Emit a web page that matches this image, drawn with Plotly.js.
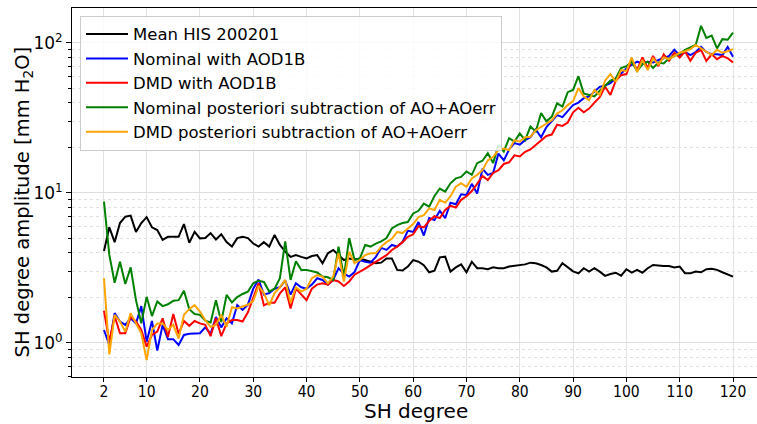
<!DOCTYPE html>
<html>
<head>
<meta charset="utf-8">
<script src="https://cdn.plot.ly/plotly-3.0.1.min.js"></script>
<style>html,body{margin:0;padding:0;background:#fff;}#chart{width:757px;height:424px;}</style>
</head>
<body>
<div id="chart"></div>
<script>
var degrees = [2,3,4,5,6,7,8,9,10,11,12,13,14,15,16,17,18,19,20,21,
22,23,24,25,26,27,28,29,30,31,32,33,34,35,36,37,38,39,40,41,
42,43,44,45,46,47,48,49,50,51,52,53,54,55,56,57,58,59,60,61,
62,63,64,65,66,67,68,69,70,71,72,73,74,75,76,77,78,79,80,81,
82,83,84,85,86,87,88,89,90,91,92,93,94,95,96,97,98,99,100,101,
102,103,104,105,106,107,108,109,110,111,112,113,114,115,116,117,118,119,120];

var meanHIS = [4.1,5.9,4.7,6.3,6.95,7.06,5.5,6.3,6.9,5.9,
5.66,4.86,5.1,5.1,5.1,6.2,4.66,5.5,4.98,5.0,
5.4,4.9,5.3,4.7,4.4,5.0,5.1,5.0,4.6,4.39,
4.7,4.39,5.25,4.5,4.06,3.75,3.85,3.75,3.66,3.8,
3.85,3.4,3.96,4.17,3.85,3.57,3.66,3.6,3.66,3.57,
3.48,3.4,3.43,3.66,3.66,3.07,3.04,3.23,3.57,3.48,
3.3,2.96,3.03,3.72,3.76,2.99,3.19,3.34,2.96,3.48,
3.15,3.15,3.10,3.19,3.15,3.15,3.23,3.26,3.28,3.34,
3.43,3.40,3.31,3.19,2.99,3.03,3.40,3.19,3.0,2.91,
3.15,2.99,3.15,2.99,2.8,2.88,2.94,2.81,3.10,2.94,
3.07,2.94,3.15,3.31,3.28,3.26,3.26,3.19,3.23,2.91,
2.91,2.99,2.96,3.10,3.12,3.07,2.96,2.86,2.77];

var nominalAOD = [1.22,0.97,1.58,1.39,1.32,1.46,1.35,1.76,1.02,1.40,
0.89,1.32,1.06,1.06,0.97,1.13,1.15,1.15,1.16,1.27,
1.15,1.49,1.27,1.46,1.35,1.79,1.66,1.8,2.3,2.65,
2.1,2.15,2.3,2.35,2.6,2.1,2.5,2.35,2.3,2.45,
2.7,2.63,2.45,2.63,3.15,2.9,2.77,2.97,3.57,3.48,
3.43,3.75,4.3,4.17,4.5,4.39,4.7,5.6,5.5,6.4,
5.2,6.8,6.6,7.6,6.8,8.6,8.4,9.8,9.7,11.5,
9.9,14.5,13.2,13.6,18.3,16.5,19.5,21.5,21,22.5,
23.5,26.5,23.5,27.5,30,33,32,35,38.6,40,
42.8,44,47.2,51,52,54,58,62.7,67.6,71.5,
75,73,75,74,77,79,82,90,83,87,
83,87,94,87,84,84,83,94,81];

var dmdAOD = [1.64,1.02,1.51,1.16,1.16,1.49,1.39,1.22,0.945,1.13,
1.19,1.46,1.10,1.56,1.15,1.40,1.30,1.40,1.35,1.32,
1.11,1.46,1.11,1.35,1.42,1.42,1.39,1.6,2.0,2.5,
1.78,1.85,1.85,2.14,2.35,1.7,2.3,2.1,1.93,2.3,
2.45,2.5,2.45,2.63,2.57,2.4,2.57,2.85,2.97,3.13,
3.3,3.48,3.66,3.85,4.17,4.39,4.7,5.1,5.3,6.0,
5.9,6.5,7.0,6.8,7.7,8.2,8.0,9.0,9.5,10.3,
11.5,13.0,12.2,13.6,14.2,15.6,16.0,17.8,17.5,18.8,
19.5,21.0,22.5,24.0,24.5,28.5,28.0,29.5,34.5,37,
34.5,36.5,40,43.5,51,45,56,61,62,77,
66,80,68,82,70,84,76,86,80,88,
76,86,90,76,84,78,82,79,74];

var nominalPost = [8.75,3.86,2.52,3.48,2.47,3.19,1.93,1.35,2.03,1.51,
1.89,1.76,1.81,1.91,1.93,2.23,1.68,1.56,1.54,1.41,
1.37,1.93,1.38,2.09,1.86,2.02,2.12,2.2,2.5,2.6,
2.55,2.2,2.3,2.7,4.75,2.63,3.5,3.07,3.07,3.0,
2.95,2.77,2.74,2.63,4.39,2.77,5.0,3.57,3.66,4.5,
4.39,4.6,4.75,5.0,5.8,6.1,6.3,6.4,7.3,7.6,
8.5,8.1,9.55,10.7,10.2,11.6,12.5,12.8,13.9,13.2,
15.8,16.4,18.4,15.8,20.9,18.9,23.2,22.0,24.9,22.5,
27.7,25.7,34.1,30,32.2,39.6,37.7,47,48.6,60,
46,45,44,48,52,56,58,68,70,75,
65,72,75,68,74,73,79,82,85,90,
94,97,130,108,112,92,106,105,117];

var dmdPost = [2.70,0.84,1.54,1.39,1.19,1.58,1.35,1.16,0.77,1.22,
1.35,1.35,1.22,1.32,1.07,1.54,1.68,1.79,1.62,1.42,
1.28,1.32,1.54,1.28,1.73,1.70,1.75,1.8,1.9,2.4,
2.15,1.78,2.15,2.35,2.63,1.85,2.35,2.2,2.3,2.7,
2.83,2.77,2.5,2.77,3.96,2.57,4.06,3.4,3.57,3.85,
3.96,3.96,4.39,4.7,4.95,5.5,5.4,5.8,6.2,6.9,
7.1,7.9,7.7,9.0,8.6,9.5,11,11.6,11,12.5,
13.2,14.2,16.5,17.4,19.3,19.8,19.3,22.5,22,23.5,
23.7,26.2,27.6,29,30.5,33.8,35.6,38.5,41,50,
44,41.5,48.6,45,56,62,55,66,65,80,
64,77,66,79,72,80,78,82,86,88,
91,97,92,88,83,90,86,88,91];

var seriesNames = ["Mean HIS 200201","Nominal with AOD1B","DMD with AOD1B",
  "Nominal posteriori subtraction of AO+AOerr","DMD posteriori subtraction of AO+AOerr"];
var seriesColors = ["#000000","#0000ff","#ff0000","#008000","#ffa500"];
var seriesData = [meanHIS, nominalAOD, dmdAOD, nominalPost, dmdPost];

var xTickVals = [2,10,20,30,40,50,60,70,80,90,100,110,120];
var xTickText = ["2","10","20","30","40","50","60","70","80","90","100","110","120"];
var yTickVals = [1,10,100];
var yTickText = ["10<sup>0</sup>","10<sup>1</sup>","10<sup>2</sup>"];
var yMinorVals = [0.6,0.7,0.8,0.9,2,3,4,5,6,7,8,9,20,30,40,50,60,70,80,90,200];

var traces = seriesData.map(function(d, i){
  return {x: degrees, y: d, type: "scatter", mode: "lines", name: seriesNames[i],
    line: {color: seriesColors[i], width: 2}};
});

var layout = {
  width: 757, height: 424,
  margin: {l: 72, r: 0, t: 8, b: 47},
  paper_bgcolor: "#ffffff", plot_bgcolor: "#ffffff",
  font: {family: "DejaVu Sans, sans-serif", color: "#000"},
  showlegend: true,
  legend: {x: 0.0117, y: 0.979, xanchor: "left", yanchor: "top",
    bgcolor: "rgba(255,255,255,0.85)", bordercolor: "#cccccc", borderwidth: 1,
    font: {size: 16.5, family: "DejaVu Sans, sans-serif"}, itemwidth: 42,
    traceorder: "normal"},
  xaxis: {range: [-4.0, 124.5], tickmode: "array", tickvals: xTickVals, ticktext: xTickText,
    tickfont: {size: 15.5, family: "DejaVu Sans Condensed, DejaVu Sans, sans-serif"},
    ticks: "", ticklen: 0,
    showline: true, linecolor: "#000", linewidth: 1, mirror: true,
    showgrid: true, gridcolor: "#e3e3e3", gridwidth: 1, zeroline: false,
    minor: {tickmode: "array", tickvals: xTickVals, ticks: "outside", ticklen: 4, tickcolor: "#000",
      showgrid: false}},
  yaxis: {type: "log", range: [-0.227, 2.233], tickmode: "array", tickvals: yTickVals, ticktext: yTickText,
    tickfont: {size: 17, family: "DejaVu Sans, sans-serif"},
    ticks: "outside", ticklen: 5, tickcolor: "#000",
    showline: true, linecolor: "#000", linewidth: 1, mirror: false,
    showgrid: true, gridcolor: "#dedede", gridwidth: 1, zeroline: false,
    minor: {tickmode: "array", tickvals: yMinorVals, ticks: "outside", ticklen: 3, tickcolor: "#000",
      showgrid: true, gridcolor: "#e0e0e0", griddash: "dot", gridwidth: 1}},
  annotations: [
    {text: "SH degree amplitude [mm H<sub>2</sub>O]", textangle: -90,
    xref: "paper", yref: "paper", x: -0.071, y: 0.474, xanchor: "center", yanchor: "middle",
    showarrow: false, font: {size: 19.5, family: "DejaVu Sans, sans-serif", color: "#000"}},
    {text: "SH degree", xref: "paper", yref: "paper", x: 0.502, y: -0.092,
    xanchor: "center", yanchor: "middle", showarrow: false,
    font: {size: 20, family: "DejaVu Sans, sans-serif", color: "#000"}}]
};

Plotly.newPlot("chart", traces, layout, {displayModeBar: false, staticPlot: true});
</script>
</body>
</html>
